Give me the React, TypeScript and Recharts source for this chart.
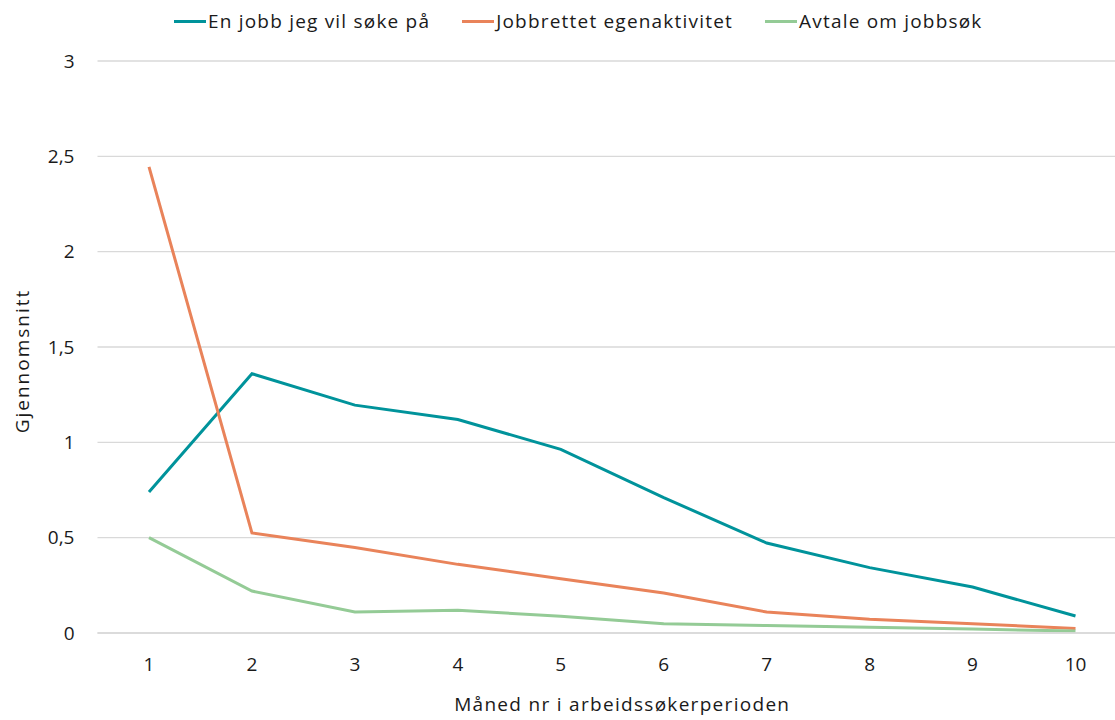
import { LineChart, Line, XAxis, YAxis, CartesianGrid, Label } from 'recharts';

const MONTHS = ['1', '2', '3', '4', '5', '6', '7', '8', '9', '10'];
const JOBB_SOKE = [0.74, 1.36, 1.195, 1.12, 0.963, 0.71, 0.472, 0.343, 0.241, 0.089];
const EGENAKTIVITET = [2.445, 0.525, 0.448, 0.36, 0.285, 0.21, 0.11, 0.072, 0.049, 0.023];
const AVTALE_JOBBSOK = [0.5, 0.22, 0.11, 0.119, 0.088, 0.049, 0.039, 0.03, 0.021, 0.01];
const Y_TICKS = [0, 0.5, 1, 1.5, 2, 2.5, 3];

const SERIES = [
  { key: 'soke', name: 'En jobb jeg vil søke på', color: '#00939B' },
  { key: 'egen', name: 'Jobbrettet egenaktivitet', color: '#E9835A' },
  { key: 'avtale', name: 'Avtale om jobbsøk', color: '#94CB96' },
];

const data = MONTHS.map((m, i) => ({
  month: m,
  soke: JOBB_SOKE[i],
  egen: EGENAKTIVITET[i],
  avtale: AVTALE_JOBBSOK[i],
}));

const FONT = '"Open Sans", Lato, sans-serif';
const TEXT = '#1a1a1a';

const fmt = (v: number) => String(v).replace('.', ',');

const YTitle = ({ viewBox }: any) => {
  const cx = 22;
  const cy = viewBox.y + viewBox.height / 2 + 14;
  return (
    <text
      x={cx}
      y={cy}
      transform={`rotate(-90, ${cx}, ${cy})`}
      textAnchor="middle"
      dominantBaseline="central"
      fill={TEXT}
      fontSize={19}
      fontFamily={FONT}
      letterSpacing={2}
    >
      Gjennomsnitt
    </text>
  );
};

const App = () => {
  return (
    <div style={{ position: 'absolute', left: 0, top: 0, width: 1115, height: 720, overflow: 'hidden', background: '#fff' }}>
      {/* Legend */}
      <div
        style={{
          position: 'absolute',
          top: 8,
          left: 174,
          display: 'flex',
          gap: 32,
          fontFamily: FONT,
          fontSize: 19,
          color: TEXT,
          lineHeight: '26px',
          letterSpacing: 1.2,
          zIndex: 1,
        }}
      >
        {SERIES.map((s) => (
          <div key={s.key} style={{ display: 'flex', alignItems: 'center' }}>
            <span style={{ display: 'inline-block', width: 32, height: 3, background: s.color, marginRight: 2 }} />
            <span>{s.name}</span>
          </div>
        ))}
      </div>

      <LineChart width={1135} height={720} data={data} margin={{ top: 61, right: 8, bottom: 0, left: 0 }}>
        <CartesianGrid vertical={false} stroke="#d9d9d9" strokeWidth={1.4} />
        <XAxis
          dataKey="month"
          height={87}
          padding={{ left: 51.5, right: 51.5 }}
          tickLine={false}
          axisLine={{ stroke: '#d9d9d9', strokeWidth: 1.4 }}
          tickSize={0}
          tickMargin={25}
          tick={{ fill: TEXT, fontSize: 19, fontFamily: FONT }}
        >
          <Label
            value="Måned nr i arbeidssøkerperioden"
            position="insideBottom"
            offset={9}
            dx={10}
            fill={TEXT}
            fontSize={19}
            fontFamily={FONT}
            letterSpacing={1.3}
          />
        </XAxis>
        <YAxis
          width={97.5}
          domain={[0, 3]}
          ticks={Y_TICKS}
          tickFormatter={fmt}
          tickLine={false}
          axisLine={false}
          tickSize={0}
          tickMargin={23}
          tick={{ fill: TEXT, fontSize: 19, fontFamily: FONT }}
        >
          <Label content={YTitle} position="insideLeft" />
        </YAxis>
        {SERIES.map((s) => (
          <Line
            key={s.key}
            type="linear"
            dataKey={s.key}
            name={s.name}
            stroke={s.color}
            strokeWidth={3}
            dot={false}
            isAnimationActive={false}
          />
        ))}
      </LineChart>
    </div>
  );
};

export default App;
